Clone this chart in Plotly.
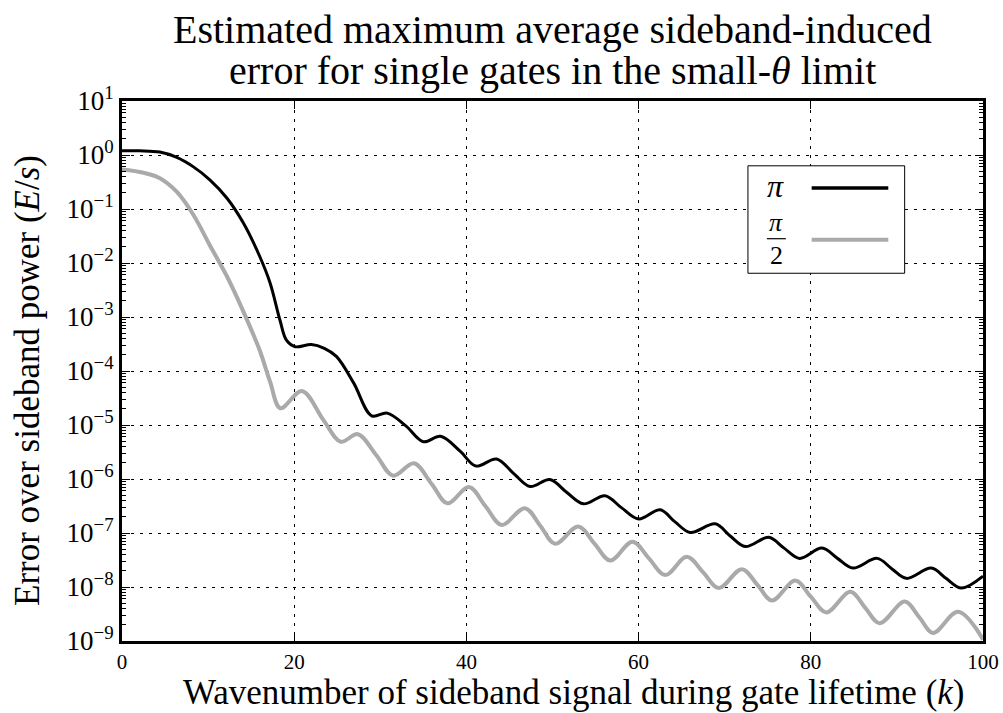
import plotly.graph_objects as go

# ---- data ----
k_pi = [0, 2, 4.4, 6.3, 8.3, 10.2, 12.2, 14.1, 16.0, 17.2, 18.35, 19.1, 20.1, 22.0, 23.5,
        24.9, 26.9, 29.0, 30.8, 33.0, 35.0, 37.0, 39.3, 41.1, 43.5, 45.5, 47.4, 49.7, 51.6,
        53.6, 56.1, 58.0, 60.0, 62.5, 64.2, 66.0, 68.9, 70.6, 72.4, 75.1, 76.9, 78.7, 81.3,
        83.1, 84.9, 87.7, 89.4, 91.1, 94.0, 95.7, 97.5, 100]
log_pi = [0.08, 0.077, 0.055, -0.04, -0.22, -0.46, -0.80, -1.26, -1.88, -2.37, -3.06, -3.43,
          -3.55, -3.51, -3.58, -3.73, -4.22, -4.83, -4.78, -5.02, -5.31, -5.21, -5.49, -5.76,
          -5.63, -5.90, -6.14, -6.01, -6.24, -6.46, -6.31, -6.53, -6.74, -6.57, -6.79, -6.99,
          -6.83, -7.05, -7.25, -7.08, -7.28, -7.47, -7.28, -7.47, -7.65, -7.47, -7.66, -7.84,
          -7.65, -7.84, -8.02, -7.80]

k_half = [0, 2.5, 4.4, 6.35, 8.3, 10.2, 12.2, 14.1, 16.0, 17.2, 18.4, 20.9, 23.4, 25.4, 27.4,
          29.5, 31.5, 33.9, 36.0, 37.8, 40.3, 42.2, 44.1, 46.8, 48.6, 50.3, 53.0, 54.9, 56.7,
          59.3, 61.2, 63.1, 65.6, 67.5, 69.3, 72.0, 73.8, 75.5, 78.2, 80.0, 81.8, 84.6, 86.3,
          88.0, 90.9, 92.6, 94.2, 97.1, 100]
log_half = [-0.27, -0.33, -0.43, -0.68, -1.11, -1.67, -2.25, -2.90, -3.62, -4.20, -4.69, -4.37,
            -4.91, -5.31, -5.17, -5.55, -5.94, -5.71, -6.10, -6.45, -6.15, -6.50, -6.85, -6.54,
            -6.87, -7.20, -6.88, -7.20, -7.51, -7.16, -7.47, -7.78, -7.44, -7.73, -8.02, -7.67,
            -7.96, -8.25, -7.88, -8.18, -8.47, -8.09, -8.38, -8.67, -8.27, -8.56, -8.85, -8.46,
            -8.97]

x_ticks = [0, 20, 40, 60, 80, 100]
y_exponents = [1, 0, -1, -2, -3, -4, -5, -6, -7, -8, -9]
y_tick_text = ["10<sup>1</sup>", "10<sup>0</sup>", "10<sup>−1</sup>", "10<sup>−2</sup>",
               "10<sup>−3</sup>", "10<sup>−4</sup>", "10<sup>−5</sup>", "10<sup>−6</sup>",
               "10<sup>−7</sup>", "10<sup>−8</sup>", "10<sup>−9</sup>"]

title_line1 = "Estimated maximum average sideband-induced"
title_line2 = "error for single gates in the small-<i>θ</i> limit"
x_title = "Wavenumber of sideband signal during gate lifetime (<i>k</i>)"
y_title = "Error over sideband power (<i>E</i>/<i>s</i>)"

FONT = "Liberation Serif, DejaVu Serif, serif"
BLACK = "#000000"
GREY = "#aaaaaa"

y_pi = [10 ** v for v in log_pi]
y_half = [10 ** v for v in log_half]
y_tickvals = [10.0 ** e for e in y_exponents]
minor_vals = [m * 10.0 ** e for e in range(-9, 1) for m in range(2, 10)]

fig = go.Figure()
fig.add_trace(go.Scatter(x=k_half, y=y_half, mode="lines", name="π/2",
                         line=dict(color=GREY, width=4, shape="spline", smoothing=1.0),
                         showlegend=False))
fig.add_trace(go.Scatter(x=k_pi, y=y_pi, mode="lines", name="π",
                         line=dict(color=BLACK, width=3, shape="spline", smoothing=1.0),
                         showlegend=False))

axis_common = dict(showline=True, linecolor=BLACK, linewidth=3, mirror="allticks",
                   ticks="inside", ticklen=8, tickwidth=1, tickcolor=BLACK, automargin=False,
                   showgrid=True, gridcolor=BLACK, gridwidth=1.2, griddash="3px,6px",
                   zeroline=False)

fig.update_xaxes(range=[0, 100], tickvals=x_ticks, ticktext=[str(t) for t in x_ticks],
                 tickfont=dict(family=FONT, size=21, color=BLACK), **axis_common)
fig.update_yaxes(type="log", range=[-9, 1], tickvals=y_tickvals, ticktext=y_tick_text,
                 tickfont=dict(family=FONT, size=27, color=BLACK),
                 minor=dict(tickvals=minor_vals, ticks="inside", ticklen=4, tickcolor=BLACK,
                            showgrid=False),
                 **axis_common)

# axis titles
fig.add_annotation(xref="paper", yref="paper", x=(574 - 122) / 861, y=(641 - 692) / 540,
                   text=x_title, showarrow=False, font=dict(family=FONT, size=35, color=BLACK),
                   xanchor="center", yanchor="middle")
fig.add_annotation(xref="paper", yref="paper", x=(27 - 122) / 861, y=(641 - 381) / 540,
                   text=y_title, showarrow=False, textangle=-90,
                   font=dict(family=FONT, size=35, color=BLACK),
                   xanchor="center", yanchor="middle")

# legend drawn by hand (labels on the left, samples on the right)
fig.add_shape(type="rect", xref="paper", yref="paper", x0=0.727, x1=0.909, y0=0.681, y1=0.880,
              line=dict(color=BLACK, width=1), fillcolor="white", layer="above")
fig.add_shape(type="line", xref="paper", yref="paper", x0=0.801, x1=0.890, y0=0.839, y1=0.839,
              line=dict(color=BLACK, width=3.5), layer="above")
fig.add_shape(type="line", xref="paper", yref="paper", x0=0.801, x1=0.890, y0=0.743, y1=0.743,
              line=dict(color=GREY, width=4), layer="above")
fig.add_shape(type="line", xref="paper", yref="paper", x0=0.749, x1=0.771, y0=0.745, y1=0.745,
              line=dict(color=BLACK, width=1.2), layer="above")
fig.add_annotation(xref="paper", yref="paper", x=0.759, y=0.842, text="<i>π</i>", showarrow=False,
                   font=dict(family=FONT, size=32, color=BLACK), xanchor="center", yanchor="middle")
fig.add_annotation(xref="paper", yref="paper", x=0.760, y=0.745, text="<i>π</i>", showarrow=False,
                   font=dict(family=FONT, size=26, color=BLACK), xanchor="center", yanchor="bottom")
fig.add_annotation(xref="paper", yref="paper", x=0.760, y=0.745, text="2", showarrow=False,
                   font=dict(family=FONT, size=26, color=BLACK), xanchor="center", yanchor="top")

# two-line title
fig.add_annotation(xref="paper", yref="paper", x=0.5, y=(641 - 29) / 540, text=title_line1,
                   showarrow=False, font=dict(family=FONT, size=40, color=BLACK),
                   xanchor="center", yanchor="middle")
fig.add_annotation(xref="paper", yref="paper", x=0.5, y=(641 - 71) / 540, text=title_line2,
                   showarrow=False, font=dict(family=FONT, size=40, color=BLACK),
                   xanchor="center", yanchor="middle")

fig.update_layout(width=1003, height=713, margin=dict(l=122, r=20, t=101, b=72),
                  paper_bgcolor="white", plot_bgcolor="white", showlegend=False,
                  font=dict(family=FONT, color=BLACK))

fig.write_html("out.html")
